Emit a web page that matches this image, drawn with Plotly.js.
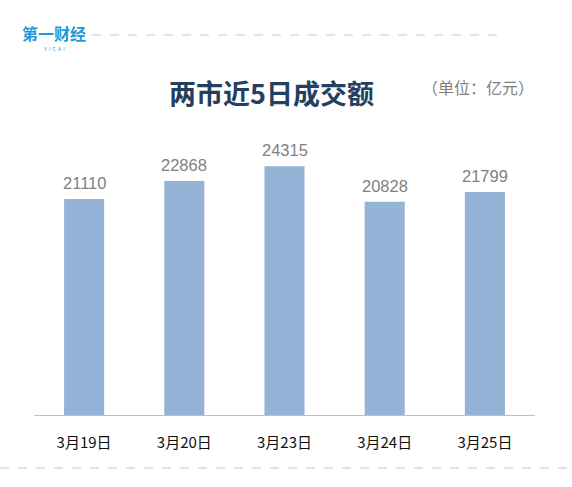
<!DOCTYPE html>
<html>
<head>
<meta charset="utf-8">
<script src="https://cdn.plot.ly/plotly-3.0.1.min.js"></script>
<style>html,body{margin:0;padding:0;background:#fff;}#chart{width:572px;height:487px;}</style>
</head>
<body>
<div id="chart"></div>
<script>
const categories = ["3月19日", "3月20日", "3月23日", "3月24日", "3月25日"];
const values = [21110, 22868, 24315, 20828, 21799];
const titleText = "两市近5日成交额";
const unitText = "（单位：亿元）";

const FONT = '"Noto Sans CJK SC", "Noto Sans", sans-serif';
const NUMFONT = '"Liberation Sans", Arial, sans-serif';
const L = 34, R = 37, T = 108, B = 72;
const plotW = 572 - L - R, plotH = 487 - T - B;
const px = x => (x - L) / plotW;
const py = y => (487 - B - y) / plotH;

const trace = {
  type: 'bar',
  x: categories,
  y: values,
  marker: {color: '#95B3D7'},
  hoverinfo: 'none'
};

const valueLabels = categories.map((c, i) => ({
  x: c, y: values[i], xref: 'x', yref: 'y',
  text: String(values[i]), showarrow: false,
  xanchor: 'center', yanchor: 'middle', yshift: 16,
  font: {family: NUMFONT, size: 16.5, color: '#808080'}
}));

const layout = {
  width: 572, height: 487,
  margin: {l: L, r: R, t: T, b: B, pad: 0},
  paper_bgcolor: '#fff', plot_bgcolor: '#fff',
  bargap: 0.6,
  showlegend: false,
  xaxis: {
    showline: true, linecolor: '#BFBFBF', linewidth: 1,
    ticks: '', ticklabelstandoff: 14,
    tickfont: {family: FONT, size: 15, color: '#111'},
    fixedrange: true
  },
  yaxis: {
    range: [0, 30000], visible: false, showgrid: false, zeroline: false, fixedrange: true
  },
  shapes: [
    {type: 'line', xref: 'paper', yref: 'paper', x0: px(92), x1: px(506), y0: py(35), y1: py(35),
     line: {color: '#C8C8C8', width: 1, dash: 'dash'}},
    {type: 'line', xref: 'paper', yref: 'paper', x0: px(0), x1: px(572), y0: py(468), y1: py(468),
     line: {color: '#C8C8C8', width: 1, dash: 'dash'}}
  ],
  annotations: valueLabels.concat([
    {xref: 'paper', yref: 'paper', x: px(271), y: py(92), xanchor: 'center', yanchor: 'middle',
     text: '<b>' + titleText + '</b>', showarrow: false,
     font: {family: FONT, size: 27, color: '#243F60'}},
    {xref: 'paper', yref: 'paper', x: px(478), y: py(87), xanchor: 'center', yanchor: 'middle',
     text: unitText, showarrow: false,
     font: {family: FONT, size: 16, color: '#7F7F7F'}},
    {xref: 'paper', yref: 'paper', x: px(54), y: py(33), xanchor: 'center', yanchor: 'middle',
     text: '<b>第一财经</b>', showarrow: false,
     font: {family: FONT, size: 16, color: '#1E9BD7'}},
    {xref: 'paper', yref: 'paper', x: px(54), y: py(48.5), xanchor: 'center', yanchor: 'middle',
     text: 'Y  I  C  A  I', showarrow: false,
     font: {family: FONT, size: 5, color: '#1E9BD7'}}
  ])
};

Plotly.newPlot('chart', [trace], layout, {displayModeBar: false, staticPlot: true});
</script>
</body>
</html>
